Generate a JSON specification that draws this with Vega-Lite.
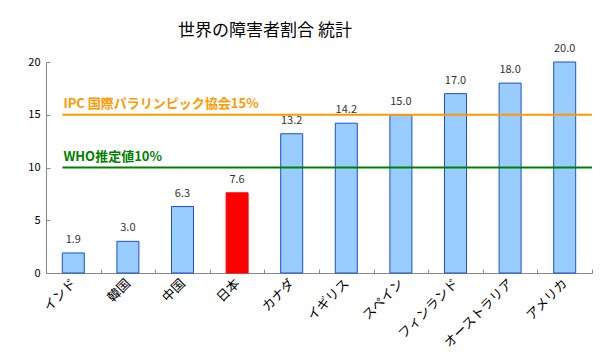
{
  "$schema": "https://vega.github.io/schema/vega-lite/v6.json",
  "width": 546,
  "height": 211,
  "autosize": "none",
  "padding": {"left": 46, "top": 62, "right": 18, "bottom": 82},
  "background": "white",
  "config": {
    "view": {"stroke": null},
    "font": "Noto Sans CJK JP",
    "axis": {"labelFont": "Noto Sans CJK JP", "labelColor": "#000", "domainColor": "#888", "tickColor": "#888", "grid": false, "title": null}
  },
  "title": {"text": "世界の障害者割合 統計", "fontSize": 17, "fontWeight": "normal", "color": "#000", "font": "Noto Sans CJK JP", "dx": -54, "offset": 3},
  "datasets": {
    "bars": [
      {"country": "インド", "value": 1.9, "group": "other"},
      {"country": "韓国", "value": 3.0, "group": "other"},
      {"country": "中国", "value": 6.3, "group": "other"},
      {"country": "日本", "value": 7.6, "group": "japan"},
      {"country": "カナダ", "value": 13.2, "group": "other"},
      {"country": "イギリス", "value": 14.2, "group": "other"},
      {"country": "スペイン", "value": 15.0, "group": "other"},
      {"country": "フィンランド", "value": 17.0, "group": "other"},
      {"country": "オーストラリア", "value": 18.0, "group": "other"},
      {"country": "アメリカ", "value": 20.0, "group": "other"}
    ],
    "refs": [
      {"label": "IPC 国際パラリンピック協会15%", "value": 15, "start": 0.3, "end": 10, "kind": "ipc"},
      {"label": "WHO推定値10%", "value": 10, "start": 0.3, "end": 10, "kind": "who"}
    ]
  },
  "resolve": {"scale": {"x": "independent"}, "axis": {"x": "independent"}},
  "layer": [
    {
      "layer": [
        {
          "mark": {"type": "bar", "width": 22, "strokeWidth": 1},
          "encoding": {
            "fill": {"field": "group", "type": "nominal", "scale": {"domain": ["other", "japan"], "range": ["#99ccff", "#ff0000"]}, "legend": null},
            "stroke": {"field": "group", "type": "nominal", "scale": {"domain": ["other", "japan"], "range": ["#1a4fd6", "#ff0000"]}, "legend": null}
          }
        },
        {
          "mark": {"type": "text", "dy": -8, "fontSize": 11, "color": "#333", "baseline": "bottom"},
          "encoding": {
            "text": {"field": "value", "type": "quantitative", "format": ".1f"}
          }
        }
      ],
      "data": {"name": "bars"},
      "encoding": {
        "x": {"field": "country", "type": "nominal", "sort": null,
          "scale": {"paddingInner": 0, "paddingOuter": 0},
          "axis": {"labelAngle": -45, "labelFontSize": 13, "labelAlign": "right", "labelBaseline": "middle", "labelPadding": 12, "tickSize": -4, "tickBand": "extent"}},
        "y": {"field": "value", "type": "quantitative",
          "scale": {"domain": [0, 20], "nice": false},
          "axis": {"values": [0, 5, 10, 15, 20], "labelFontSize": 11, "tickSize": -4, "labelPadding": 10}}
      }
    },
    {
      "data": {"name": "refs"},
      "encoding": {
        "x": {"field": "start", "type": "quantitative", "scale": {"domain": [0, 10], "nice": false, "zero": false}, "axis": null},
        "y": {"field": "value", "type": "quantitative"},
        "color": {"field": "kind", "type": "nominal", "scale": {"domain": ["ipc", "who"], "range": ["#ff9900", "#008000"]}, "legend": null}
      },
      "layer": [
        {
          "mark": {"type": "rule", "strokeWidth": 2},
          "encoding": {"x2": {"field": "end"}}
        },
        {
          "mark": {"type": "text", "align": "left", "baseline": "bottom", "dy": -4, "dx": 1, "fontSize": 13, "fontWeight": "bold"},
          "encoding": {"text": {"field": "label"}}
        }
      ]
    }
  ]
}
